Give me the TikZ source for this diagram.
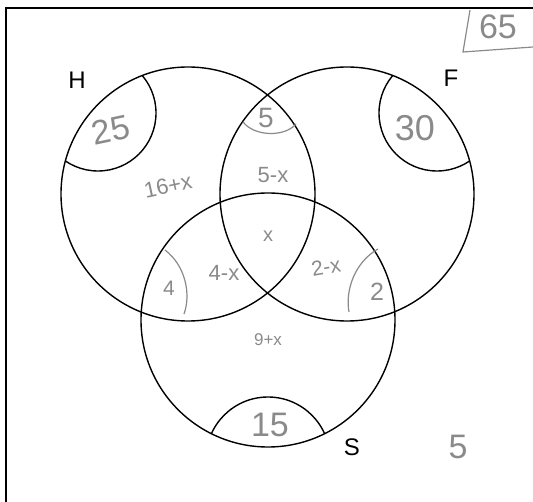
\documentclass[tikz,border=0pt]{standalone}
\usepackage{fontspec}
\setmainfont{Liberation Sans}
\usepackage{tikz}
\usepackage{xcolor}
\definecolor{pencil}{HTML}{8A8A8A}

\begin{document}
\begin{tikzpicture}[x=1pt, y=-1pt, line width=1.4pt,
    setname/.style={font=\fontsize{24}{26}\selectfont, inner sep=0pt},
    hand/.style={text=pencil, inner sep=0pt},
    pencilline/.style={draw=pencil, line width=1.2pt}]
    \useasboundingbox (0,0) rectangle (533,502);
    % frame
    \draw (533,8) -- (6,8) -- (6,502);

    % the three sets
    \draw (188,194) circle[radius=127pt];
    \draw (347,194) circle[radius=127pt];
    \draw (268,320) circle[radius=127pt];

    % corner arcs
    \begin{scope}
        \clip (188,194) circle[radius=127pt];
        \draw (98,113) circle[radius=58pt];
    \end{scope}
    \begin{scope}
        \clip (347,194) circle[radius=127pt];
        \draw (437,113) circle[radius=58pt];
    \end{scope}
    \begin{scope}
        \clip (268,320) circle[radius=127pt];
        \draw (268,459) circle[radius=62pt];
    \end{scope}

    % set names
    \node[setname] (H) at (77,80) {H};
    \node[setname] (F) at (451,78) {F};
    \node[setname] (S) at (352,447) {S};

    % pencil marks
    \draw[pencilline] (243,122) .. controls (255,137) and (285,137) .. (296,124);
    \draw[pencilline] (165,250) .. controls (186,266) and (191,295) .. (184,314);
    \draw[pencilline] (378,249) .. controls (355,262) and (345,290) .. (349,312);
    \draw[pencilline] (470,10) -- (463,52) -- (533,47);

    % pencil numbers
    \node[hand, font=\fontsize{34}{36}\selectfont, rotate=12] (nH) at (111,130) {25};
    \node[hand, font=\fontsize{36}{38}\selectfont] (nF) at (415,128) {30};
    \node[hand, font=\fontsize{28}{30}\selectfont] (nHF) at (266,118) {5};
    \node[hand, font=\fontsize{22}{24}\selectfont, rotate=12] (xH) at (168,186) {16+x};
    \node[hand, font=\fontsize{22}{24}\selectfont] (xHF) at (273,175) {5-x};
    \node[hand, font=\fontsize{20}{22}\selectfont] (xHFS) at (268,236) {x};
    \node[hand, font=\fontsize{21}{23}\selectfont] (nHS) at (169,288) {4};
    \node[hand, font=\fontsize{22}{24}\selectfont] (xHS) at (224,273) {4-x};
    \node[hand, font=\fontsize{21}{23}\selectfont, rotate=10] (xFS) at (326,267) {2-x};
    \node[hand, font=\fontsize{25}{27}\selectfont] (nFS) at (377,292) {2};
    \node[hand, font=\fontsize{17}{19}\selectfont] (xS) at (268,340) {9+x};
    \node[hand, font=\fontsize{34}{36}\selectfont] (nS) at (270,425) {15};
    \node[hand, font=\fontsize{34}{36}\selectfont] (nout) at (458,447) {5};
    \node[hand, font=\fontsize{34}{36}\selectfont] (total) at (498,27) {65};
\end{tikzpicture}
\end{document}
